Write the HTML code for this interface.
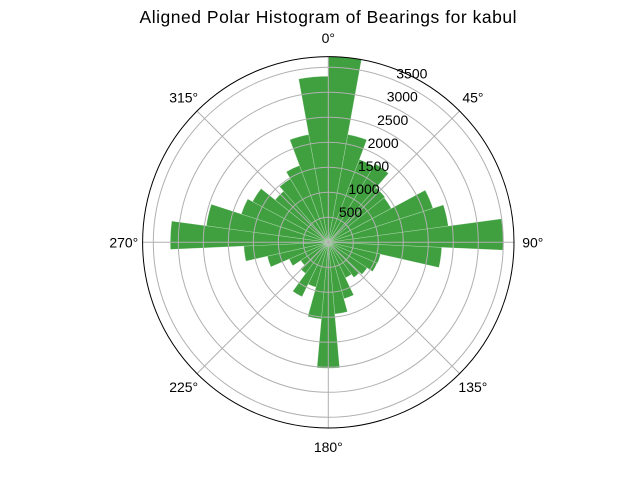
<!DOCTYPE html>
<html><head><meta charset="utf-8"><style>
html,body{margin:0;padding:0;background:#fff;}
svg{display:block;font-family:"Liberation Sans","DejaVu Sans",sans-serif;}
</style></head><body>
<svg id="chart" width="640" height="480" viewBox="0 0 640 480">
<text x="328" y="23" text-anchor="middle" font-size="17.5" textLength="377" fill="#000">Aligned Polar Histogram of Bearings for kabul</text>
<g id="bars"></g>
<g id="grid"></g>
<g id="labels"></g>
</svg>
<script>
const binCounts = [3714,2190,1770,1830,1450,1430,2200,2420,3500,2270,1070,1060,930,870,790,1170,1440,2520,1540,930,1210,770,660,850,1250,1690,3160,2460,1830,1720,1360,1480,1640,2190,3320];
const radialTicks = [500,1000,1500,2000,2500,3000,3500];
const radialTickLabels = ["500","1000","1500","2000","2500","3000","3500"];
const thetaTicks = [0,45,90,135,180,225,270,315];
const thetaTickLabels = ["0°","45°","90°","135°","180°","225°","270°","315°"];

const NS='http://www.w3.org/2000/svg';
const cx=328.3, cy=242.3, R=185.7;
const rmax=Math.max(...binCounts);
const rScale=v=>v/rmax*R;
const pt=(deg,r)=>{const a=deg*Math.PI/180;return [cx+r*Math.sin(a), cy-r*Math.cos(a)];};
const n=binCounts.length, w=360/n;
const bars=document.getElementById('bars');
binCounts.forEach((v,i)=>{
  const r=rScale(v), a0=i*w, a1=(i+1)*w;
  const [x0,y0]=pt(a0,r), [x1,y1]=pt(a1,r);
  const p=document.createElementNS(NS,'path');
  p.setAttribute('d',`M${cx},${cy} L${x0},${y0} A${r},${r} 0 0 1 ${x1},${y1} Z`);
  p.setAttribute('fill','#40a040');
  p.setAttribute('stroke','rgba(255,255,255,0.35)');
  p.setAttribute('stroke-width','0.6');
  
  
  bars.appendChild(p);
});
const grid=document.getElementById('grid');
radialTicks.forEach((t,i)=>{
  const c=document.createElementNS(NS,'circle');
  c.setAttribute('cx',cx);c.setAttribute('cy',cy);c.setAttribute('r',rScale(t));
  c.setAttribute('fill','none');c.setAttribute('stroke','#b0b0b0');c.setAttribute('stroke-width','1');
  
  
  grid.appendChild(c);
});
thetaTicks.forEach(t=>{
  const [x,y]=pt(t,R);
  const l=document.createElementNS(NS,'line');
  l.setAttribute('x1',cx);l.setAttribute('y1',cy);l.setAttribute('x2',x);l.setAttribute('y2',y);
  l.setAttribute('stroke','#b0b0b0');l.setAttribute('stroke-width','1');
  
  
  grid.appendChild(l);
});
const outer=document.createElementNS(NS,'circle');
outer.setAttribute('cx',cx);outer.setAttribute('cy',cy);outer.setAttribute('r',R);
outer.setAttribute('fill','none');outer.setAttribute('stroke','#000');outer.setAttribute('stroke-width','1');


grid.appendChild(outer);
const labels=document.getElementById('labels');
radialTicks.forEach((t,i)=>{
  const [x,y]=pt(22.5,rScale(t));
  const tx=document.createElementNS(NS,'text');
  tx.setAttribute('x',x+1);tx.setAttribute('y',y-2);
  tx.setAttribute('font-size','14');tx.setAttribute('fill','#000');
  tx.textContent=radialTickLabels[i];
  
  
  labels.appendChild(tx);
});
thetaTicks.forEach((t,i)=>{
  const [x,y]=pt(t,204.5);
  const tx=document.createElementNS(NS,'text');
  tx.setAttribute('x',x);tx.setAttribute('y',y+5);
  tx.setAttribute('text-anchor','middle');
  tx.setAttribute('font-size','14');tx.setAttribute('fill','#000');
  tx.textContent=thetaTickLabels[i];
  
  
  labels.appendChild(tx);
});
</script>
</body></html>
